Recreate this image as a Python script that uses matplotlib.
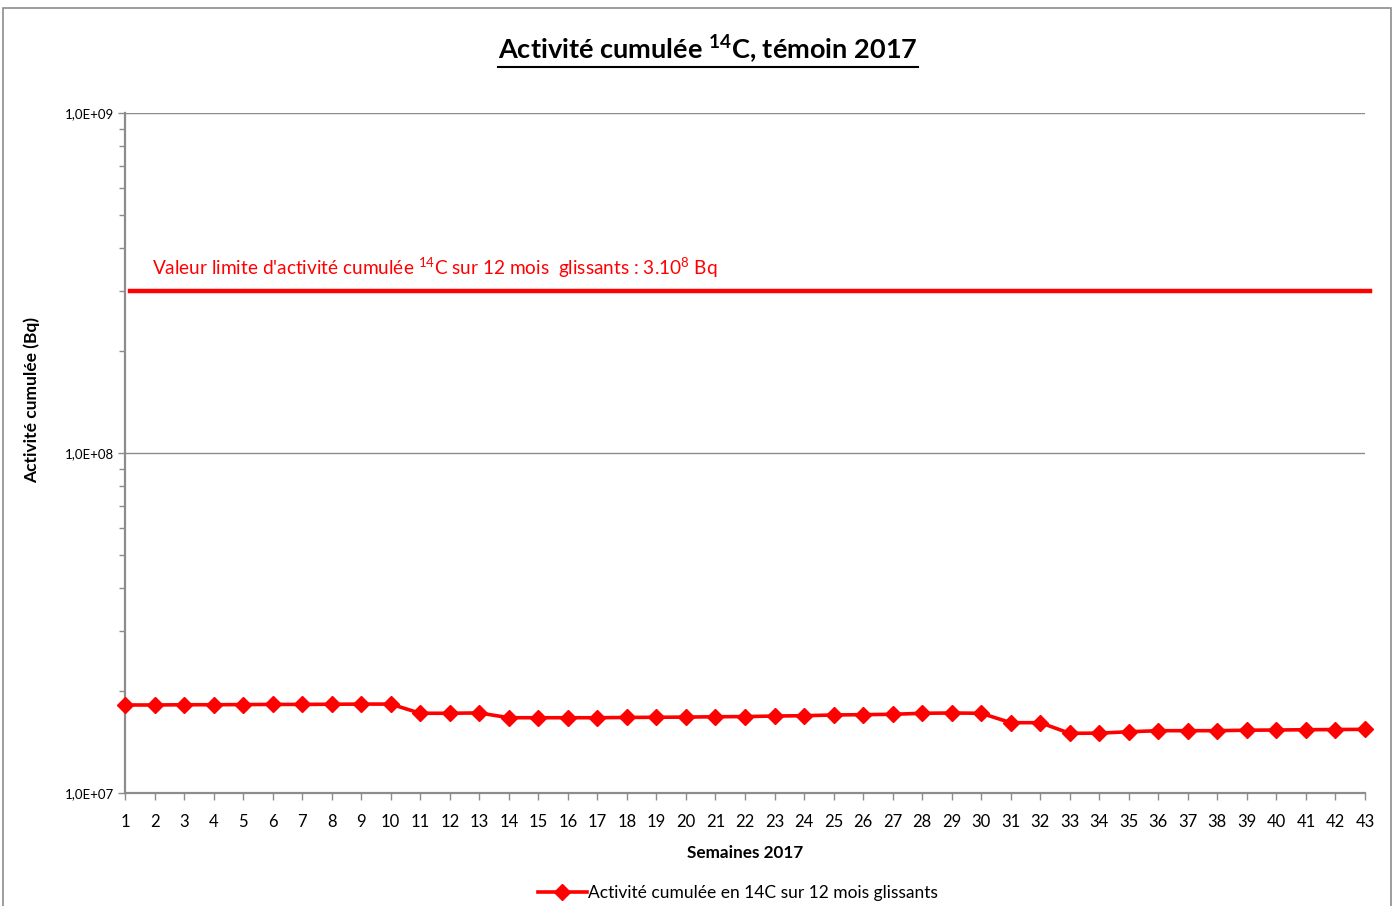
import matplotlib
matplotlib.use("Agg")
import matplotlib.pyplot as plt
import matplotlib.ticker as mticker
from matplotlib.patches import Rectangle
from matplotlib.lines import Line2D

plt.rcParams['font.family'] = ['Lato', 'DejaVu Sans']
plt.rcParams['mathtext.fontset'] = 'custom'
plt.rcParams['mathtext.rm'] = 'Lato'
plt.rcParams['mathtext.bf'] = 'Lato:bold'

weeks = list(range(1, 44))
activity = [1.815e7, 1.815e7, 1.818e7, 1.818e7, 1.820e7, 1.822e7, 1.822e7, 1.824e7, 1.826e7, 1.826e7,
            1.716e7, 1.716e7, 1.720e7, 1.665e7, 1.665e7, 1.665e7, 1.665e7, 1.668e7, 1.670e7, 1.672e7,
            1.676e7, 1.678e7, 1.684e7, 1.688e7, 1.696e7, 1.700e7, 1.704e7, 1.716e7, 1.719e7, 1.716e7,
            1.610e7, 1.610e7, 1.498e7, 1.500e7, 1.514e7, 1.525e7, 1.525e7, 1.525e7, 1.530e7, 1.532e7,
            1.535e7, 1.537e7, 1.539e7]
limit_value = 3e8
ytick_values = [1e7, 1e8, 1e9]
ytick_labels = ["1,0E+07", "1,0E+08", "1,0E+09"]

title = r"Activité cumulée $\mathbf{^{14}}$C, témoin 2017"
limit_text = r"Valeur limite d'activité cumulée $^{14}$C sur 12 mois  glissants : 3.10$^{8}$ Bq"
series_label = "Activité cumulée en 14C sur 12 mois glissants"

W, H = 1396, 906
fig = plt.figure(figsize=(W/100, H/100), dpi=100)
fig.patch.set_facecolor('white')

# chart border
fig.add_artist(Rectangle((3/W, -0.02), (1391-3)/W, 1 - 8/H + 0.02, transform=fig.transFigure,
                         fill=False, edgecolor='#8c8c8c', linewidth=1.2))

ax = fig.add_axes([125/W, 1-793/H, (1365-125)/W, (793-113)/H])
ax.set_yscale('log')
ax.set_ylim(1e7, 1e9)
ax.set_xlim(1, 43)

red = '#ff0000'
ax.plot(weeks, activity, color=red, linewidth=2.6, marker='D', markersize=8.5,
        markeredgecolor=red, markerfacecolor=red, label=series_label, zorder=5, clip_on=False)

ax.axhline(limit_value, xmin=0.004, xmax=1.004, color=red, linewidth=3.2, clip_on=False, zorder=4)
ax.text(152/W, 1-268/H, limit_text, transform=fig.transFigure, color=red, fontsize=13.7,
        ha='left', va='center')

ax.set_yticks(ytick_values)
ax.set_yticklabels(ytick_labels)
ax.yaxis.set_minor_locator(mticker.LogLocator(base=10, subs=range(2, 10)))
ax.yaxis.set_minor_formatter(mticker.NullFormatter())
ax.set_xticks(weeks)
ax.set_xticklabels([str(w) for w in weeks])

ax.grid(True, which='major', axis='y', color='#8c8c8c', linewidth=1.0)
ax.set_axisbelow(True)
for s in ['top', 'right']:
    ax.spines[s].set_visible(False)
for s in ['left', 'bottom']:
    ax.spines[s].set_color('#8c8c8c')
    ax.spines[s].set_linewidth(1.6)

ax.tick_params(axis='y', which='major', direction='out', length=5, width=1, color='#8c8c8c',
               labelsize=9.5, pad=3)
ax.tick_params(axis='y', which='minor', direction='out', length=4, width=1, color='#8c8c8c')
ax.tick_params(axis='x', which='major', direction='out', length=5, width=1, color='#8c8c8c',
               labelsize=12, pad=10)

ax.set_xlabel("Semaines 2017", fontsize=12.3, fontweight='bold')
ax.xaxis.set_label_coords(0.5, -(853-793)/680, transform=ax.transAxes)
ax.xaxis.label.set_va('center')
ax.set_ylabel("Activité cumulée (Bq)", fontsize=12.5, fontweight='bold')
ax.yaxis.set_label_coords(-(125-32)/1240, (793-400)/680)
ax.yaxis.label.set_va('center')

t = fig.text(708/W, 1-50/H, title, fontsize=19.5, fontweight='bold', ha='center', va='center')
fig.canvas.draw()
bb = t.get_window_extent()
uy = bb.y0 - 1
fig.add_artist(Line2D([bb.x0/W, bb.x1/W], [uy/H, uy/H], transform=fig.transFigure,
                      color='black', linewidth=1.5))

leg = fig.legend(handles=[Line2D([], [], color=red, linewidth=2.6, marker='D', markersize=8.5)],
                 labels=[series_label], loc='center', bbox_to_anchor=(738/W, 1-893/H),
                 frameon=False, fontsize=12.5, handlelength=2.8, handletextpad=0.1)

fig.savefig("out.png", dpi=100)
